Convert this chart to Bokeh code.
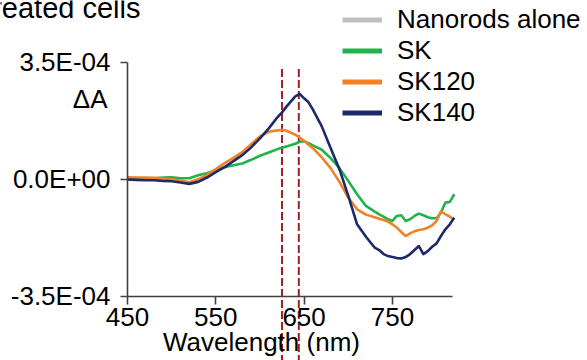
from bokeh.plotting import figure
from bokeh.models import Range1d, LinearAxis, FixedTicker, Label, Legend, LegendItem
from bokeh.embed import file_html
from bokeh.resources import INLINE

# ---------------- data ----------------
wavelength = [450, 460, 470, 480, 490, 500, 510, 520, 530, 540, 550, 560, 570, 580, 590,
              600, 610, 620, 625, 630, 640, 645, 650, 655, 660, 670, 680, 690, 700, 710,
              720, 730, 735, 740, 745, 750, 755, 760, 765, 770, 775, 780, 785, 790, 795,
              800, 805, 810, 815, 820]

# delta absorbance, units of 1e-4
sk = [0.00, 0.00, 0.02, 0.03, 0.05, 0.06, 0.03, 0.03, 0.12, 0.18, 0.27, 0.36, 0.42, 0.47, 0.58,
      0.70, 0.80, 0.90, 0.94, 0.98, 1.06, 1.12, 1.14, 1.08, 1.01, 0.88, 0.63, 0.33, -0.05, -0.45,
      -0.80, -0.97, -1.05, -1.12, -1.20, -1.25, -1.10, -1.08, -1.25, -1.20, -1.10, -1.03, -1.08,
      -1.14, -1.17, -1.17, -1.00, -0.70, -0.68, -0.45]

sk120 = [0.06, 0.05, 0.05, 0.04, 0.02, 0.00, -0.04, -0.09, 0.00, 0.12, 0.30, 0.48, 0.64, 0.81,
         1.05, 1.28, 1.42, 1.46, 1.48, 1.45, 1.33, 1.25, 1.15, 1.03, 0.93, 0.65, 0.33, -0.08,
         -0.55, -0.90, -1.06, -1.14, -1.18, -1.22, -1.27, -1.35, -1.45, -1.58, -1.70, -1.62,
         -1.56, -1.52, -1.50, -1.45, -1.38, -1.25, -0.96, -1.05, -1.12, -1.22]

sk140 = [-0.01, -0.02, -0.03, -0.03, -0.05, -0.06, -0.10, -0.14, -0.08, 0.05, 0.21, 0.36, 0.54,
         0.72, 0.95, 1.22, 1.52, 1.86, 2.00, 2.17, 2.48, 2.55, 2.42, 2.30, 2.08, 1.58, 0.93,
         0.30, -0.50, -1.35, -1.72, -2.05, -2.12, -2.24, -2.30, -2.33, -2.36, -2.37, -2.33,
         -2.24, -2.12, -2.00, -2.24, -2.15, -2.02, -1.92, -1.70, -1.50, -1.35, -1.15]

marker_wavelengths = [625, 644]

x_ticks = [450, 550, 650, 750]
y_ticks = [-3.5e-4, 0.0, 3.5e-4]
y_tick_labels = ["-3.5E-04", "0.0E+00", "3.5E-04"]

series_names = ["Nanorods alone", "SK", "SK120", "SK140"]
series_colors = ["#bfbfbf", "#22b24c", "#f28025", "#1c2a6b"]

scale = 1e-4
FONT = "Liberation Sans"
NAN = float("nan")

# ---------------- figure ----------------
p = figure(width=587, height=360, output_backend="svg", toolbar_location=None,
           x_axis_type=None, y_axis_type=None,
           x_range=Range1d(306.2, 970.9), y_range=Range1d(-5.424e-4, 5.346e-4),
           min_border=0, min_border_left=0, min_border_right=0,
           min_border_top=0, min_border_bottom=0)
p.outline_line_color = None
p.grid.visible = False
p.background_fill_color = "white"
p.border_fill_color = "white"

# dashed marker lines (drawn first, behind curves)
for wl in marker_wavelengths:
    p.line([wl, wl], [3.3e-4, -5.6e-4], line_color="#a31f28", line_width=2,
           line_dash="8 3")

for vals, col in zip([sk, sk120, sk140], series_colors[1:]):
    p.line(wavelength, [v * scale for v in vals], line_color=col, line_width=2.6,
           line_join="round")

# legend swatches (thick lines, no visible data in the plot area)
legend_renderers = [p.line([NAN], [NAN], line_color=c, line_width=5) for c in series_colors]

# axes
xaxis = LinearAxis(fixed_location=-3.5e-4, bounds=(450, 818),
                   ticker=FixedTicker(ticks=x_ticks))
xaxis.major_label_text_font = FONT
xaxis.major_label_text_font_size = "26px"
xaxis.major_label_text_color = "black"
xaxis.axis_line_color = "#404040"
xaxis.axis_line_width = 1.6
xaxis.major_tick_line_color = "#404040"
xaxis.major_tick_line_width = 1.6
xaxis.major_tick_out = 8
xaxis.major_tick_in = 0
xaxis.minor_tick_line_color = None
xaxis.major_label_standoff = 4
p.add_layout(xaxis, "below")

yaxis = LinearAxis(fixed_location=450, bounds=(-3.5e-4, 3.5e-4),
                   ticker=FixedTicker(ticks=y_ticks))
yaxis.major_label_overrides = {t: s for t, s in zip(y_ticks, y_tick_labels)}
yaxis.major_label_text_font = FONT
yaxis.major_label_text_font_size = "26px"
yaxis.major_label_text_color = "black"
yaxis.axis_line_color = "#404040"
yaxis.axis_line_width = 1.6
yaxis.major_tick_line_color = "#404040"
yaxis.major_tick_line_width = 1.6
yaxis.major_tick_out = 7
yaxis.major_tick_in = 0
yaxis.minor_tick_line_color = None
yaxis.major_label_standoff = 10
p.add_layout(yaxis, "left")

# texts
p.add_layout(Label(x=601.7, y=-4.86e-4, text="Wavelength (nm)", text_align="center",
                   text_baseline="alphabetic", text_font=FONT, text_font_size="26px",
                   text_color="black"))
p.add_layout(Label(x=427.4, y=2.41e-4, text="ΔA", text_align="right",
                   text_baseline="alphabetic", text_font=FONT, text_font_size="26px",
                   text_color="black"))
p.add_layout(Label(x=464.7, y=5.13e-4, text="Treated cells", text_align="right",
                   text_baseline="alphabetic", text_font=FONT, text_font_size="29px",
                   text_color="black"))

legend = Legend(items=[LegendItem(label=n, renderers=[r])
                       for n, r in zip(series_names, legend_renderers)],
                location=(342, 232), padding=0, margin=0, spacing=0,
                glyph_width=40, glyph_height=29, label_height=29, label_standoff=15,
                label_text_font=FONT, label_text_font_size="26px", label_text_color="black",
                border_line_color=None, background_fill_alpha=0)
p.add_layout(legend)

open("out.html", "w").write(file_html(p, INLINE))
